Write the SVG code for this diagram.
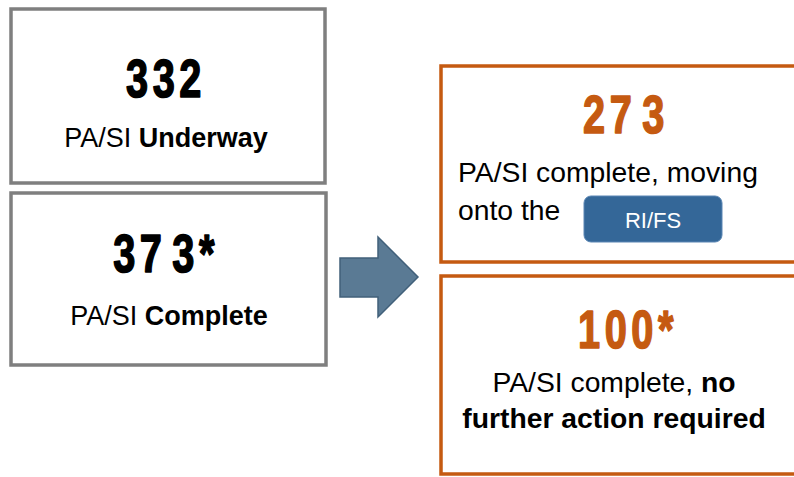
<svg xmlns="http://www.w3.org/2000/svg" width="794" height="477" viewBox="0 0 794 477">
<style>
.gbox{fill:#ffffff;stroke:#7f7f7f;stroke-width:3.5}
.obox{fill:#ffffff;stroke:#c55a11;stroke-width:3.5}
.num{font-family:"Liberation Sans",Arial,sans-serif;font-weight:bold;font-size:53px;letter-spacing:6px;stroke-width:1.6;stroke-linejoin:round}
.blk{fill:#000000;stroke:#000000}
.org{fill:#c55a11;stroke:#c55a11}
.lbl{font-family:"Liberation Sans",Arial,sans-serif;fill:#000000}
.b{font-weight:bold}
</style>
<rect width="794" height="477" fill="#ffffff"/>
<g id="node-underway">
<rect class="gbox" x="11" y="9" width="314" height="174"/>
<text class="num blk" transform="translate(166,97) scale(0.75,1)" text-anchor="middle">332</text>
<text class="lbl" x="166" y="147" font-size="27" text-anchor="middle">PA/SI <tspan class="b">Underway</tspan></text>
</g>
<g id="node-complete">
<rect class="gbox" x="11" y="193" width="315" height="172"/>
<text class="num blk" transform="translate(166,272) scale(0.75,1)" text-anchor="middle">37<tspan dx="8">3*</tspan></text>
<text class="lbl" x="169" y="325" font-size="27" text-anchor="middle">PA/SI <tspan class="b">Complete</tspan></text>
</g>
<g id="connectors">
<polygon points="340,258 378,258 378,237 418,277 378,317 378,297 340,297" fill="#5a7a94" stroke="#41607a" stroke-width="1.5"/>
</g>
<g id="node-rifs">
<rect class="obox" x="441" y="66" width="360" height="196"/>
<text class="num org" transform="translate(626,133) scale(0.75,1)" text-anchor="middle">27<tspan dx="8">3</tspan></text>
<text class="lbl" x="458" y="182" font-size="28.3">PA/SI complete, moving</text>
<text class="lbl" x="458" y="220" font-size="28.3">onto the</text>
<rect x="584" y="196" width="138" height="46" rx="7" fill="#346798" stroke="#5a86b4" stroke-width="1"/>
<text x="653" y="228" font-family="'Liberation Sans',Arial,sans-serif" font-size="22" fill="#ffffff" text-anchor="middle">RI/FS</text>
</g>
<g id="node-nfa">
<rect class="obox" x="441" y="276" width="360" height="198"/>
<text class="num org" transform="translate(628,348) scale(0.75,1)" text-anchor="middle" letter-spacing="8">100*</text>
<text class="lbl" x="614" y="392" font-size="28.3" text-anchor="middle">PA/SI complete, <tspan class="b">no</tspan></text>
<text class="lbl b" x="614" y="428" font-size="28.3" text-anchor="middle">further action required</text>
</g>
</svg>
